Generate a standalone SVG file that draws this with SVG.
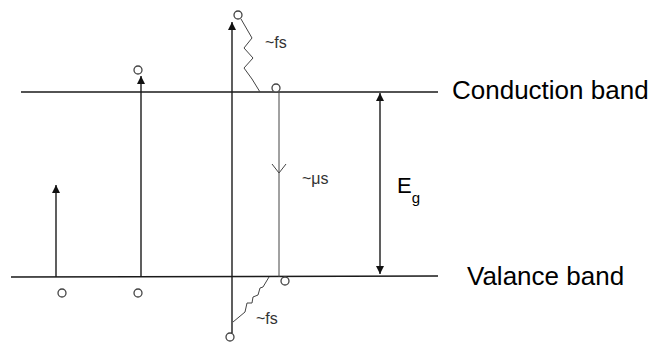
<svg xmlns="http://www.w3.org/2000/svg" width="654" height="343" viewBox="0 0 654 343">
<style>
.ln{stroke:#1a1a1a;stroke-width:1.4;fill:none}
.thin{stroke:#444;stroke-width:1;fill:none}
.st{stroke:#444;stroke-width:1.3;fill:#fff}
.lbl{font-family:"Liberation Sans",Arial,sans-serif;fill:#000}
.sm{font-family:"Liberation Sans",Arial,sans-serif;fill:#333;font-size:16px}
</style>
<defs>
<marker id="ah" viewBox="0 0 10 10" refX="10" refY="5" markerWidth="8" markerHeight="8" markerUnits="userSpaceOnUse" orient="auto">
<path d="M0,0 L10,5 L0,10 z" fill="#111"/>
</marker>
<marker id="ahs" viewBox="0 0 10 10" refX="10" refY="5" markerWidth="8" markerHeight="8" markerUnits="userSpaceOnUse" orient="auto-start-reverse">
<path d="M0,0 L10,5 L0,10 z" fill="#111"/>
</marker>
</defs>
<rect width="654" height="343" fill="#fff"/>
<g id="conduction-band">
<line class="ln" x1="21" y1="92" x2="438" y2="92"/>
<text class="lbl" x="452" y="99" font-size="26">Conduction band</text>
</g>
<g id="valence-band">
<line class="ln" x1="11" y1="277" x2="438" y2="276"/>
<text class="lbl" x="467" y="285" font-size="26">Valance band</text>
</g>
<g id="gap-label">
<text class="lbl" x="397" y="193" font-size="22">E<tspan font-size="15" dy="10">g</tspan></text>
</g>
<g id="carriers">
<circle class="st" cx="62" cy="293" r="4"/>
<circle class="st" cx="138" cy="293" r="4"/>
<circle class="st" cx="138" cy="70" r="4"/>
<circle class="st" cx="238" cy="15" r="4"/>
<circle class="st" cx="230" cy="337" r="4"/>
<circle class="st" cx="276" cy="88" r="4"/>
<circle class="st" cx="285" cy="281" r="4"/>
</g>
<g id="labels">
<text class="sm" x="265" y="48">~fs</text>
<text class="sm" x="302" y="184">~μs</text>
<text class="sm" x="256" y="324">~fs</text>
</g>
<g id="connectors">
<line class="ln" x1="56" y1="277" x2="56" y2="185" marker-end="url(#ah)"/>
<line class="ln" x1="141" y1="277" x2="141" y2="76" marker-end="url(#ah)"/>
<line class="ln" x1="232" y1="333" x2="232" y2="22" marker-end="url(#ah)"/>
<line class="ln" x1="380" y1="93" x2="380" y2="274" marker-start="url(#ahs)" marker-end="url(#ah)"/>
<line class="thin" x1="279" y1="92" x2="279" y2="277"/>
<path class="thin" d="M272,164 L279,173 L286,164"/>
<path class="thin" d="M241,19 L252,38 L244,48 L253,58 L244,68 L252,79 L260,92"/>
<path class="thin" d="M233,322 L245,312 L247,303 L252,303 L253,297 L258,295 L260,288 L263,287 L269,277"/>
</g>
</svg>
